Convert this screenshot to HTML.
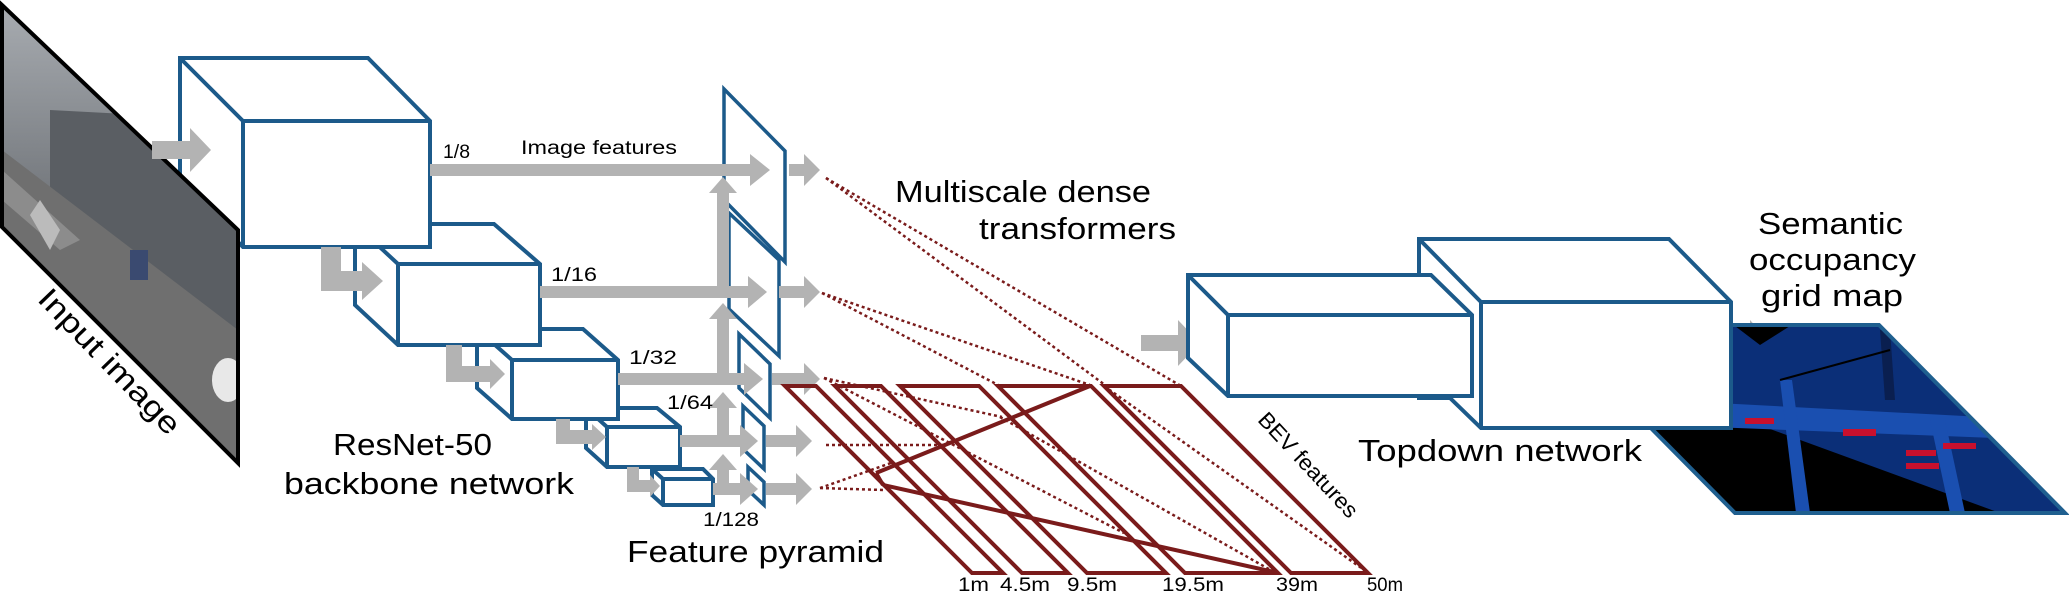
<!DOCTYPE html>
<html><head><meta charset="utf-8"><style>
html,body{margin:0;padding:0;background:#fff;}
svg{display:block;}
text{font-family:"Liberation Sans",sans-serif;fill:#000;}
</style></head><body>
<svg width="2069" height="591" viewBox="0 0 2069 591" xmlns="http://www.w3.org/2000/svg">
<defs>
<linearGradient id="sky" x1="0" y1="0" x2="0" y2="1">
<stop offset="0" stop-color="#a9adb2"/><stop offset="0.35" stop-color="#7d8186"/><stop offset="0.6" stop-color="#5f6266"/><stop offset="1" stop-color="#77787a"/>
</linearGradient>
<clipPath id="imgclip"><polygon points="2,5 238,230 238,463 2,227"/></clipPath>
<clipPath id="mapclip"><polygon points="1549,325 1879,325 2065,513 1735,513"/></clipPath>
</defs>

<g fill="#fff" stroke="#1c5a8a" stroke-width="4" stroke-linejoin="miter">
<polygon points="652,469 703,469 713,479 713,505 663,505 652,495"/>
<path fill="none" d="M652,469 L663,479 L713,479 M663,479 L663,505"/>
<polygon points="586,408 657,408 680,427 680,467 607,467 586,448"/>
<path fill="none" d="M586,408 L607,427 L680,427 M607,427 L607,467"/>
<polygon points="477,329 583,329 618,360 618,419 512,419 477,388"/>
<path fill="none" d="M477,329 L512,360 L618,360 M512,360 L512,419"/>
<polygon points="355,224 494,224 540,264 540,345 398,345 355,305"/>
<path fill="none" d="M355,224 L398,264 L540,264 M398,264 L398,345"/>
<polygon points="180,58 368,58 430,121 430,247 243,247 180,183"/>
<path fill="none" d="M180,58 L243,121 L430,121 M243,121 L243,247"/>
</g>

<g clip-path="url(#imgclip)">
<rect x="0" y="0" width="240" height="470" fill="url(#sky)"/>
<polygon points="50,110 238,120 238,330 50,200" fill="#5a5e63"/>
<polygon points="2,150 238,330 238,463 2,227" fill="#6f6f6f"/>
<polygon points="2,170 80,240 60,250 2,200" fill="#8c8c8c"/>
<polygon points="40,200 60,230 50,250 30,215" fill="#bbb"/>
<rect x="130" y="250" width="18" height="30" fill="#3a4a70"/>
<ellipse cx="228" cy="380" rx="16" ry="22" fill="#e8e8e8"/>
</g>
<polygon points="2,5 238,230 238,463 2,227" fill="none" stroke="#000" stroke-width="4"/>

<g fill="#fff" stroke="#1c5a8a" stroke-width="3.5">
<polygon points="724,89 785,151 785,262 724,200"/>
<polygon points="729,213 779,260 779,356 729,309"/>
<polygon points="739,334 770,364 770,418 739,388"/>
<polygon points="743,406 764,426 764,469 743,449"/>
<polygon points="748,467 764,482 764,505 748,490"/>
</g>

<g fill="#b3b3b3">
<polygon points="152,141 190,141 190,128 211,150 190,172 190,159 152,159"/>
<polygon points="430,164 750,164 750,154 770,170 750,186 750,176 430,176"/>
<polygon points="789,164 804,164 804,154 820,170 804,186 804,176 789,176"/>
<polygon points="540,286 748,286 748,276 767,292 748,308 748,298 540,298"/>
<polygon points="779,286 804,286 804,276 820,292 804,308 804,298 779,298"/>
<polygon points="618,373 744,373 744,363 763,379 744,395 744,385 618,385"/>
<polygon points="772,373 804,373 804,363 820,379 804,395 804,385 772,385"/>
<polygon points="680,435 740,435 740,425 758,441 740,457 740,447 680,447"/>
<polygon points="766,435 796,435 796,425 812,441 796,457 796,447 766,447"/>
<polygon points="713,483 740,483 740,473 758,489 740,505 740,495 713,495"/>
<polygon points="766,483 796,483 796,473 812,489 796,505 796,495 766,495"/>
<polygon points="717,489 717,470 709,470 723,454 737,470 729,470 729,489"/>
<polygon points="717,441 717,408 709,408 723,392 737,408 729,408 729,441"/>
<polygon points="717,379 717,319 709,319 723,303 737,319 729,319 729,379"/>
<polygon points="717,292 717,193 709,193 723,177 737,193 729,193 729,292"/>
<polygon points="321,247 341,247 341,271 362,271 362,262 383,281 362,300 362,291 321,291"/>
<polygon points="446,345 462,345 462,366 490,366 490,359 505,374 490,389 490,382 446,382"/>
<polygon points="556,419 570,419 570,430 592,430 592,424 606,437 592,450 592,444 556,444"/>
<polygon points="627,467 639,467 639,480 650,480 650,475 660,486 650,497 650,492 627,492"/>
<polygon points="1141,335 1178,335 1178,320 1200,343 1178,366 1178,351 1141,351"/>
<polygon points="1731,335 1750,335 1750,320 1771,343 1750,366 1750,351 1731,351"/>
</g>

<g fill="none" stroke="#7a1b1b" stroke-width="4" stroke-linejoin="miter">
<polygon points="785,386 816,386 1003,573 972,573"/>
<polygon points="835,386 881,386 1068,573 1022,573"/>
<polygon points="900,386 979,386 1166,573 1087,573"/>
<polygon points="998,386 1091,386 1278,573 1185,573"/>
<polygon points="1104,386 1181,386 1368,573 1291,573"/>
<line x1="1090" y1="386" x2="876" y2="473"/>
<line x1="876" y1="473" x2="883" y2="485"/>
<line x1="883" y1="485" x2="1274" y2="572"/>
</g>
<g fill="none" stroke="#7a1b1b" stroke-width="2.5" stroke-dasharray="3,3">
<line x1="826" y1="178" x2="1105" y2="385"/>
<line x1="826" y1="178" x2="1181" y2="386"/>
<line x1="822" y1="293" x2="1090" y2="385"/>
<line x1="822" y1="293" x2="1000" y2="386"/>
<line x1="824" y1="378" x2="1002" y2="417"/>
<line x1="824" y1="378" x2="1124" y2="533"/>
<line x1="1000" y1="417" x2="1274" y2="572"/>
<line x1="1104" y1="386" x2="1367" y2="572"/>
<line x1="826" y1="445" x2="944" y2="445"/>
<line x1="820" y1="488" x2="883" y2="490"/>
<line x1="820" y1="488" x2="891" y2="463"/>
</g>

<g clip-path="url(#mapclip)">
<rect x="1540" y="320" width="530" height="200" fill="#0b2f78"/>
<polygon points="1640,418 1740,418 2000,513 1700,513" fill="#000"/>
<polygon points="1735,326 1790,326 1760,345" fill="#000"/>
<polygon points="1660,400 2040,420 2045,440 1660,425" fill="#1a4fb0"/>
<polygon points="1780,380 1792,380 1810,513 1796,513" fill="#1a4fb0"/>
<polygon points="1930,420 1945,420 1965,513 1950,513" fill="#1a4fb0"/>
<polygon points="1880,330 1890,330 1895,400 1885,400" fill="#0a1f50"/>
<line x1="1780" y1="380" x2="1890" y2="350" stroke="#000" stroke-width="2"/>
<g fill="#c8102e">
<rect x="1745" y="418" width="29" height="6"/>
<rect x="1843" y="429" width="33" height="7"/>
<rect x="1906" y="450" width="30" height="6"/>
<rect x="1906" y="463" width="33" height="6"/>
<rect x="1943" y="443" width="33" height="6"/>
</g>
</g>
<polygon points="1549,325 1879,325 2065,513 1735,513" fill="none" stroke="#1f5f8f" stroke-width="4"/>

<g fill="#fff" stroke="#1c5a8a" stroke-width="4">
<polygon points="1419,239 1669,239 1731,302 1731,428 1481,428 1450,398 1419,398"/>
<path fill="none" d="M1419,239 L1481,302 L1731,302 M1481,302 L1481,428"/>
<polygon points="1188,275 1431,275 1472,315 1472,396 1228,396 1188,358"/>
<path fill="none" d="M1188,275 L1228,315 L1472,315 M1228,315 L1228,396"/>
</g>

<text transform="translate(108,363) rotate(46)" text-anchor="middle" dominant-baseline="middle" font-size="30" textLength="190" lengthAdjust="spacingAndGlyphs">Input image</text>
<text x="443" y="158" font-size="19" textLength="27" lengthAdjust="spacingAndGlyphs">1/8</text>
<text x="521" y="154" font-size="19" textLength="156" lengthAdjust="spacingAndGlyphs">Image features</text>
<text x="551" y="281" font-size="19" textLength="46" lengthAdjust="spacingAndGlyphs">1/16</text>
<text x="629" y="364" font-size="19" textLength="48" lengthAdjust="spacingAndGlyphs">1/32</text>
<text x="667" y="409" font-size="19" textLength="46" lengthAdjust="spacingAndGlyphs">1/64</text>
<text x="703" y="526" font-size="19" textLength="56" lengthAdjust="spacingAndGlyphs">1/128</text>
<text x="333" y="455" font-size="31" textLength="159" lengthAdjust="spacingAndGlyphs">ResNet-50</text>
<text x="284" y="494" font-size="31" textLength="290" lengthAdjust="spacingAndGlyphs">backbone network</text>
<text x="627" y="562" font-size="31" textLength="257" lengthAdjust="spacingAndGlyphs">Feature pyramid</text>
<text x="895" y="202" font-size="31" textLength="256" lengthAdjust="spacingAndGlyphs">Multiscale dense</text>
<text x="979" y="239" font-size="31" textLength="197" lengthAdjust="spacingAndGlyphs">transformers</text>
<text transform="translate(1307,466) rotate(47)" text-anchor="middle" dominant-baseline="middle" font-size="22" textLength="135" lengthAdjust="spacingAndGlyphs">BEV features</text>
<text x="1358" y="461" font-size="31" textLength="284" lengthAdjust="spacingAndGlyphs">Topdown network</text>
<text x="1758" y="234" font-size="31" textLength="145" lengthAdjust="spacingAndGlyphs">Semantic</text>
<text x="1749" y="270" font-size="31" textLength="167" lengthAdjust="spacingAndGlyphs">occupancy</text>
<text x="1761" y="306" font-size="31" textLength="142" lengthAdjust="spacingAndGlyphs">grid map</text>
<g font-size="19">
<text x="958" y="591" textLength="31" lengthAdjust="spacingAndGlyphs">1m</text>
<text x="1000" y="591" textLength="50" lengthAdjust="spacingAndGlyphs">4.5m</text>
<text x="1067" y="591" textLength="50" lengthAdjust="spacingAndGlyphs">9.5m</text>
<text x="1162" y="591" textLength="62" lengthAdjust="spacingAndGlyphs">19.5m</text>
<text x="1276" y="591" textLength="42" lengthAdjust="spacingAndGlyphs">39m</text>
<text x="1367" y="591" textLength="36" lengthAdjust="spacingAndGlyphs">50m</text>
</g>
</svg>
</body></html>
